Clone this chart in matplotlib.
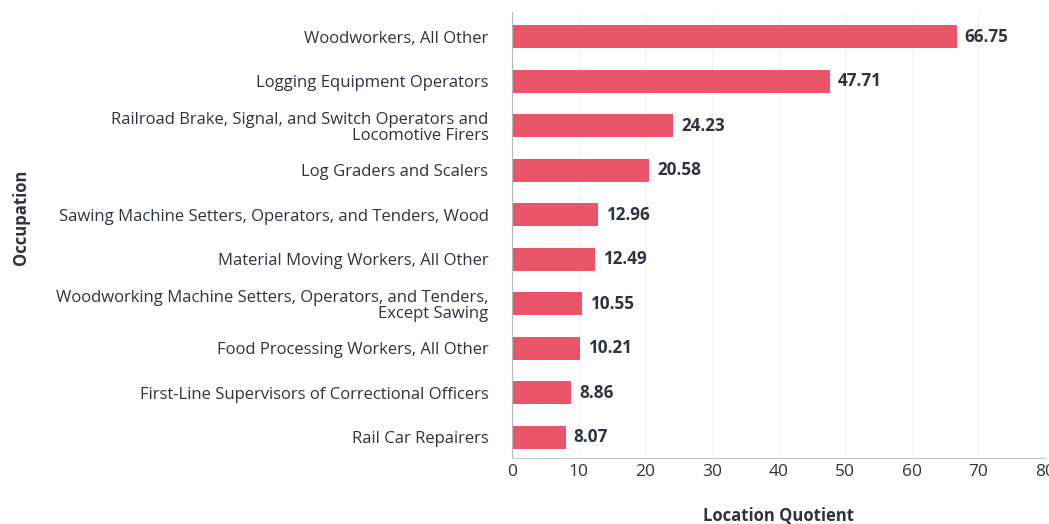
import matplotlib.pyplot as plt

occupations = [
    "Woodworkers, All Other",
    "Logging Equipment Operators",
    "Railroad Brake, Signal, and Switch Operators and\nLocomotive Firers",
    "Log Graders and Scalers",
    "Sawing Machine Setters, Operators, and Tenders, Wood",
    "Material Moving Workers, All Other",
    "Woodworking Machine Setters, Operators, and Tenders,\nExcept Sawing",
    "Food Processing Workers, All Other",
    "First-Line Supervisors of Correctional Officers",
    "Rail Car Repairers",
]
location_quotient = [66.75, 47.71, 24.23, 20.58, 12.96, 12.49, 10.55, 10.21, 8.86, 8.07]
x_ticks = [0, 10, 20, 30, 40, 50, 60, 70, 80]

BAR = "#e9566a"
TEXT = "#2e3242"

plt.rcParams["font.family"] = ["Open Sans", "DejaVu Sans"]

W, H = 1049, 524
fig = plt.figure(figsize=(W / 100, H / 100), dpi=100)
ax = fig.add_axes([512 / W, 1 - 458 / H, 533 / W, 446 / H])

ypos = list(range(len(occupations)))
ax.barh(ypos, location_quotient, height=0.52, color=BAR, zorder=2)
for y, v in zip(ypos, location_quotient):
    ax.text(v + 1.2, y, f"{v:.2f}", va="center", ha="left",
            fontsize=12.3, fontweight="bold", color=TEXT)

ax.set_ylim(9.47, -0.56)
ax.set_xlim(0, 80)
ax.set_xticks(x_ticks)
ax.set_yticks(ypos)
ax.set_yticklabels(occupations, fontsize=12, color=TEXT, ha="right",
                   linespacing=1.05)
ax.tick_params(axis="y", length=0, pad=17)
ax.tick_params(axis="x", length=0, pad=4, labelsize=12.5, labelcolor=TEXT)

ax.grid(axis="x", color="#f1f1f1", linewidth=0.8, zorder=0)
for side in ("top", "right"):
    ax.spines[side].set_visible(False)
ax.spines["left"].set_color("#b8b8b8")
ax.spines["bottom"].set_color("#c8c8c8")

ax.set_xlabel("Location Quotient", fontsize=12, fontweight="bold", color=TEXT, labelpad=20)
ax.set_ylabel("Occupation", fontsize=12, fontweight="bold", color=TEXT)
ax.yaxis.set_label_coords(-0.905, 0.54)

fig.savefig("out.png", dpi=100, facecolor="white")
